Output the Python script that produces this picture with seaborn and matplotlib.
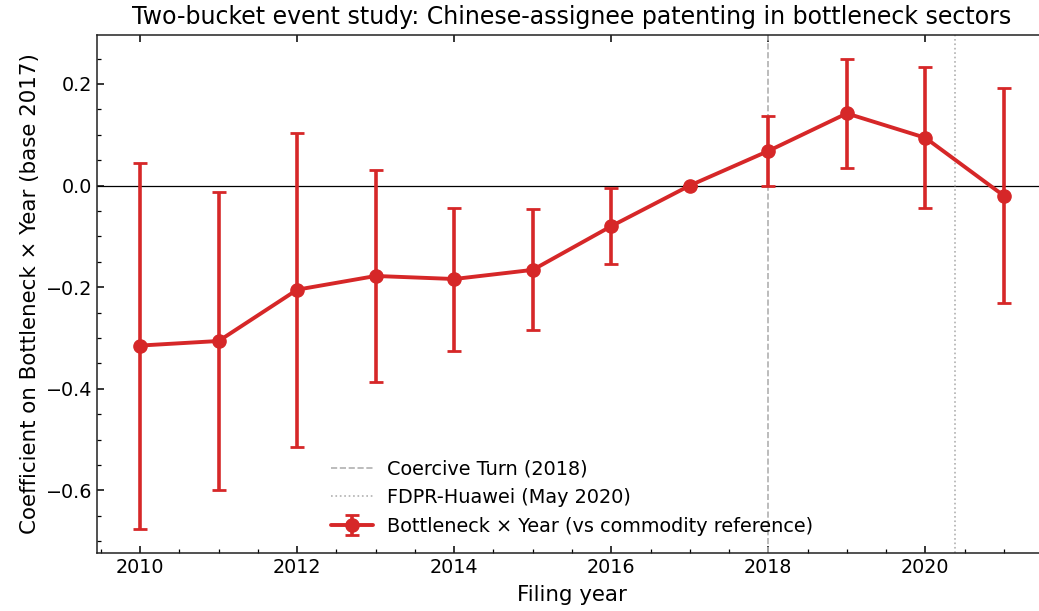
import numpy as np
import pandas as pd
import matplotlib
matplotlib.use("Agg")
import matplotlib.pyplot as plt
from matplotlib.ticker import AutoMinorLocator
import seaborn as sns

# Event-study estimates (base year 2017) with 95% CI bounds
years = [2010, 2011, 2012, 2013, 2014, 2015, 2016, 2017, 2018, 2019, 2020, 2021]
coef = [-0.315, -0.306, -0.205, -0.178, -0.184, -0.166, -0.080, 0.000, 0.068, 0.142, 0.094, -0.020]
ci_low = [-0.677, -0.600, -0.515, -0.386, -0.326, -0.284, -0.155, 0.000, 0.000, 0.034, -0.045, -0.232]
ci_high = [0.045, -0.013, 0.103, 0.030, -0.044, -0.047, -0.005, 0.000, 0.137, 0.250, 0.234, 0.193]

coercive_turn = 2018
fdpr_huawei = 2020.375

df = pd.DataFrame({"year": years, "coef": coef, "lo": ci_low, "hi": ci_high})

sns.set_theme(style="ticks")
plt.rcParams["font.family"] = ["DejaVu Sans"]
plt.rcParams.update({
    "text.color": "black",
    "axes.labelcolor": "black",
    "xtick.color": "black",
    "ytick.color": "black",
})

fig = plt.figure(figsize=(10.39, 6.11), dpi=100)
ax = fig.add_axes([97 / 1039, 1 - 553 / 611, 950 / 1039, (553 - 35) / 611])

red = "#d62728"
ax.axhline(0, color="black", lw=0.9, zorder=1)
ax.axvline(coercive_turn, color="#b0b0b0", ls="--", lw=1.2, label="Coercive Turn (2018)", zorder=1)
ax.axvline(fdpr_huawei, color="#b0b0b0", ls=":", lw=1.2, label="FDPR-Huawei (May 2020)", zorder=1)

yerr = np.vstack([df["coef"] - df["lo"], df["hi"] - df["coef"]])
ax.errorbar(df["year"], df["coef"], yerr=yerr, color=red, lw=2.8, elinewidth=2.6,
            capsize=5, capthick=2.0, marker="o", markersize=9.5,
            label="Bottleneck × Year (vs commodity reference)", zorder=3)

ax.set_xticks([2010, 2012, 2014, 2016, 2018, 2020])
ax.set_yticks([-0.6, -0.4, -0.2, 0.0, 0.2])
ax.xaxis.set_minor_locator(AutoMinorLocator(4))
ax.yaxis.set_minor_locator(AutoMinorLocator(4))
ax.tick_params(which="both", direction="in", labelsize=13.8)
ax.tick_params(which="major", length=5.2, width=1.1, top=True, right=False)
ax.tick_params(which="minor", length=2.8, width=0.9, top=False, right=False)
for s in ax.spines.values():
    s.set_color("#222222")
    s.set_linewidth(1.1)

ax.set_xlabel("Filing year", fontsize=15.4, labelpad=6)
ax.set_ylabel("Coefficient on Bottleneck × Year (base 2017)", fontsize=15.4, labelpad=4)
ax.set_title("Two-bucket event study: Chinese-assignee patenting in bottleneck sectors",
             fontsize=17, pad=8)

ax.legend(loc="lower center", frameon=False, fontsize=13.9, handlelength=2.2,
          handletextpad=0.7, borderaxespad=0.5)

fig.savefig("out.png", dpi=100)
